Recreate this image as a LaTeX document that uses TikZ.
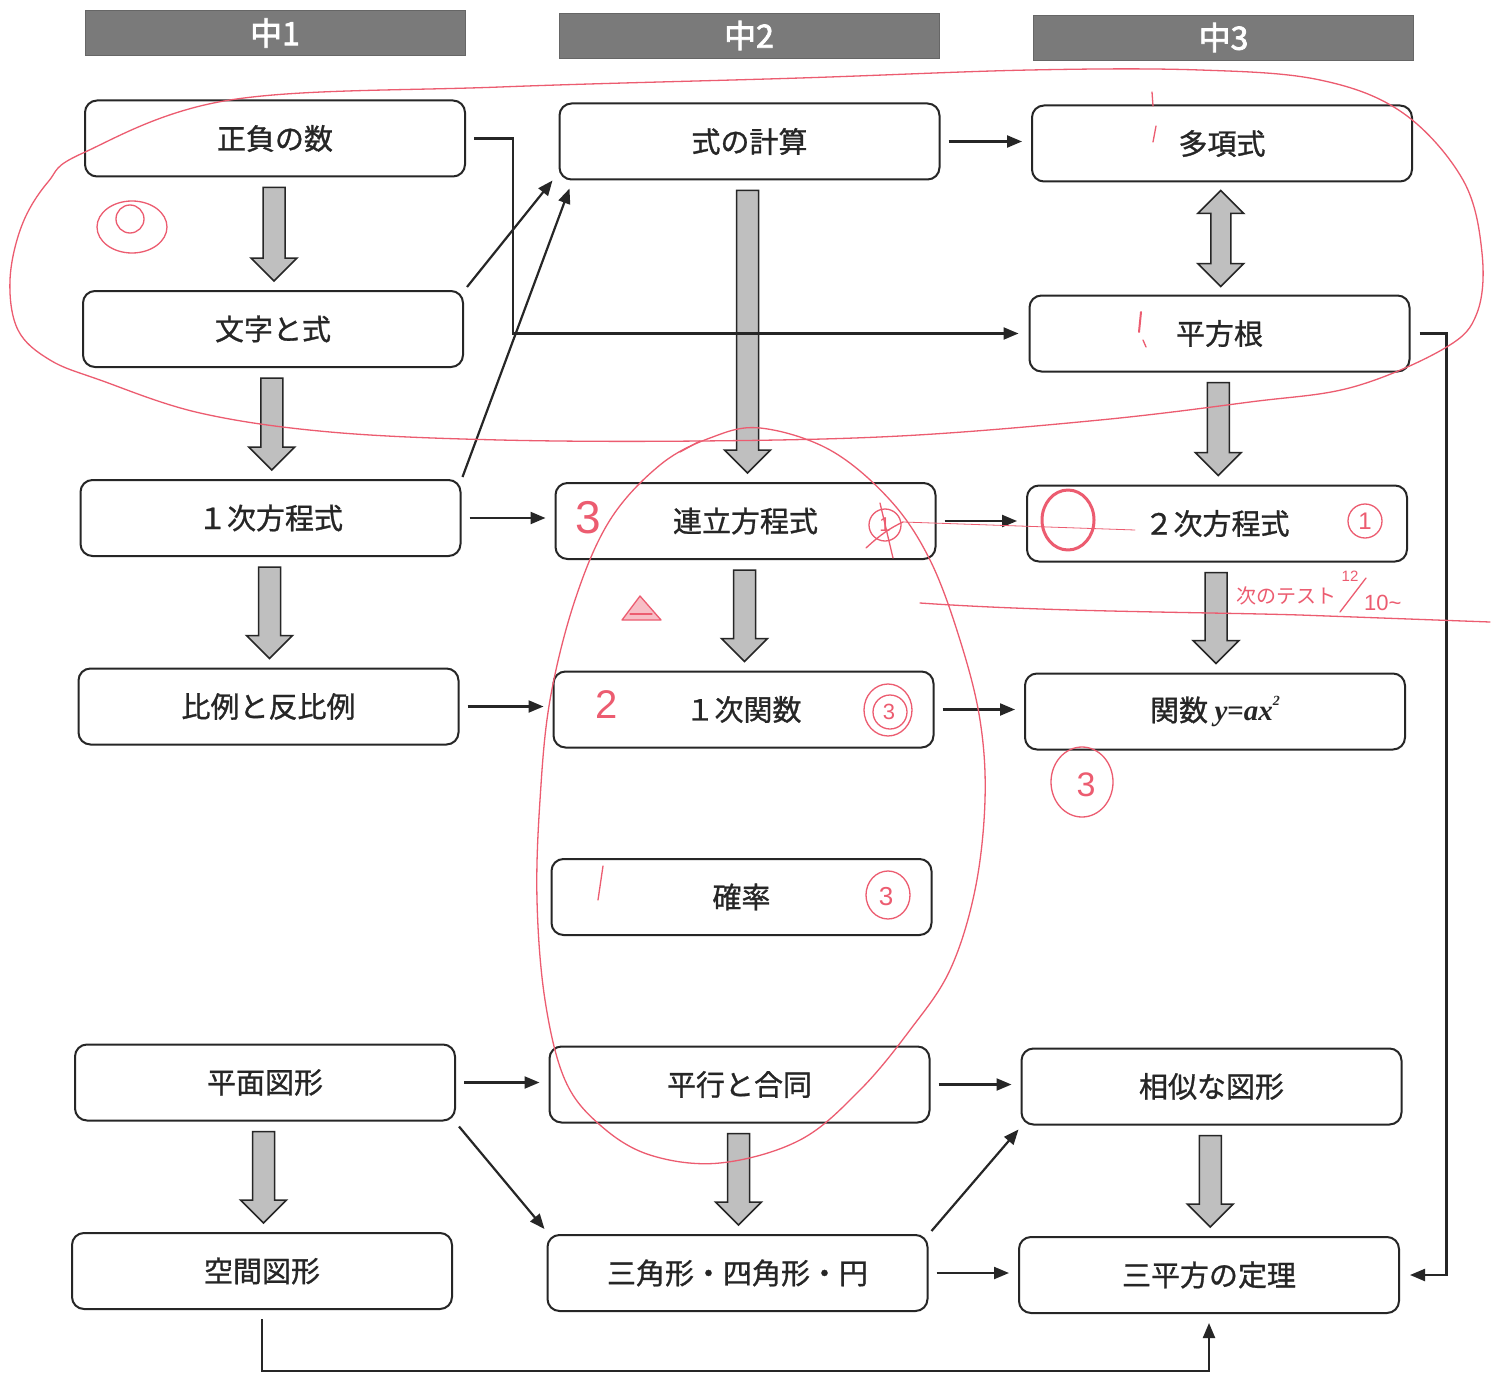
\documentclass[tikz,border=0pt]{standalone}
\usepackage{fontspec}
\usetikzlibrary{calc,arrows.meta}
\newfontfamily\jp{Noto Sans CJK JP}[FakeBold=1]
\newfontfamily\jpthin{Noto Sans CJK JP}
\newfontfamily\jpbold{Noto Sans CJK JP}[FakeBold=2.5]
\newfontfamily\serifbi{Liberation Serif}
\newfontfamily\handsans{Liberation Sans}
\definecolor{redpen}{RGB}{236,92,112}
\newcommand\boxfont{\jp\fontsize{29}{34}\selectfont}
\newcommand\hdrfont{\jpbold\fontsize{32}{36}\selectfont}
\newcommand\fatdown[2]{%
  \draw[fat] let \p1=(#1.south), \p2=(#2.north), \p3=($(\p1)!0.5!(\p2)$) in
    (\x3-11pt,\y1-10pt) -- (\x3+11pt,\y1-10pt) -- (\x3+11pt,\y2+32pt) --
    (\x3+23pt,\y2+32pt) -- (\x3,\y2+9pt) -- (\x3-23pt,\y2+32pt) --
    (\x3-11pt,\y2+32pt) -- cycle;}
\begin{document}
\begin{tikzpicture}[x=1pt,y=-1pt,
  box/.style={draw=black!85, line width=2pt, rounded corners=12pt,
    minimum width=380pt, minimum height=76pt, font=\boxfont, text=black!85, inner sep=0pt},
  hdr/.style={fill=black!52, draw=black!60, line width=0.8pt, minimum width=380pt,
    minimum height=45pt, font=\hdrfont, text=white, inner sep=0pt},
  conn/.style={draw=black!85, line width=2.2pt, -{Triangle[length=15pt,width=12pt]}},
  fat/.style={draw=black!85, line width=1.5pt, fill=black!25},
  pen/.style={draw=redpen, line width=1.3pt, line cap=round, line join=round},
  pentext/.style={text=redpen, inner sep=0pt},
]
\useasboundingbox[fill=white] (0,0) rectangle (1494,1375);

% headers
\node[hdr] (h1) at (275,33) {中1};
\node[hdr] (h2) at (749,35.5) {中2};
\node[hdr] (h3) at (1223.5,37.5) {中3};

% column 1
\node[box] (seifu)  at (275,138.5)  {正負の数};
\node[box] (moji)   at (273,329)    {文字と式};
\node[box] (ichiji) at (270.5,518)  {１次方程式};
\node[box] (hirei)  at (268.5,706.5){比例と反比例};
\node[box] (heimen) at (265,1082.5) {平面図形};
\node[box] (kukan)  at (262,1271)   {空間図形};
% column 2
\node[box] (siki)     at (749.5,141.5) {式の計算};
\node[box] (renritsu) at (745.5,521)   {連立方程式};
\node[box] (kansu1)   at (743.5,709.5) {１次関数};
\node[box] (kakuritsu)at (741.5,897)   {確率};
\node[box] (heiko)    at (739.5,1084.5){平行と合同};
\node[box] (sankaku)  at (737.5,1273)  {三角形・四角形・円};
% column 3
\node[box] (tako)   at (1222,143.5)  {多項式};
\node[box] (heiho)  at (1219.5,333.5){平方根};
\node[box] (niji)   at (1217,523.5)  {２次方程式};
\node[box] (kansu2) at (1215,711.5)  {関数 {\serifbi\bfseries\itshape y\upshape=\itshape ax\raisebox{0.55em}{\fontsize{14}{14}\selectfont 2}}};
\node[box] (soji)   at (1211.5,1086.5){相似な図形};
\node[box] (sanhei) at (1209,1275)   {三平方の定理};

% fat arrows
\fatdown{seifu}{moji}
\fatdown{moji}{ichiji}
\fatdown{ichiji}{hirei}
\fatdown{heimen}{kukan}
\fatdown{siki}{renritsu}
\fatdown{renritsu}{kansu1}
\fatdown{heiko}{sankaku}
\fatdown{heiho}{niji}
\fatdown{niji}{kansu2}
\fatdown{soji}{sanhei}
\draw[fat] let \p1=(tako.south), \p2=(heiho.north), \p3=($(\p1)!0.5!(\p2)$) in
  (\x3,\y1-8pt) -- (\x3+23pt,\y1-31pt) -- (\x3+10pt,\y1-31pt) -- (\x3+10pt,\y2+31pt) --
  (\x3+23pt,\y2+31pt) -- (\x3,\y2+8pt) -- (\x3-23pt,\y2+31pt) -- (\x3-10pt,\y2+31pt) --
  (\x3-10pt,\y1-31pt) -- (\x3-23pt,\y1-31pt) -- cycle;

% thin connectors
\draw[conn] ([xshift=8pt]seifu.east) -- ++(39pt,0pt) |- ([xshift=-10pt]heiho.west);
\draw[conn] ([xshift=8pt]siki.east) -- ([xshift=-9pt]tako.west |- siki.east);
\draw[conn] ([xshift=3pt,yshift=3pt]moji.north east) -- ([xshift=-6pt,yshift=0pt]siki.south west);
\draw[conn] ([xshift=1pt,yshift=2pt]ichiji.north east) -- ([xshift=11pt,yshift=-8pt]siki.south west);
\draw[conn] ([xshift=8pt]ichiji.east) -- ([xshift=-9pt]renritsu.west |- ichiji.east);
\draw[conn] ([xshift=8pt]renritsu.east) -- ([xshift=-9pt]niji.west |- renritsu.east);
\draw[conn] ([xshift=8pt]hirei.east) -- ([xshift=-9pt]kansu1.west |- hirei.east);
\draw[conn] ([xshift=8pt]kansu1.east) -- ([xshift=-9pt]kansu2.west |- kansu1.east);
\draw[conn] ([xshift=8pt]heimen.east) -- ([xshift=-9pt]heiko.west |- heimen.east);
\draw[conn] ([xshift=8pt]heiko.east) -- ([xshift=-9pt]soji.west |- heiko.east);
\draw[conn] ([xshift=3pt,yshift=-5pt]heimen.south east) -- ([xshift=-2pt,yshift=5pt]sankaku.north west);
\draw[conn] ([xshift=3pt,yshift=3pt]sankaku.north east) -- ([xshift=-2pt,yshift=-4pt]soji.south west);
\draw[conn] ([xshift=8pt]sankaku.east) -- ([xshift=-9pt]sanhei.west |- sankaku.east);
\draw[conn] ([xshift=9pt]heiho.east) -- ++(27pt,0pt) |- ([xshift=10pt]sanhei.east);
\draw[conn] ([yshift=-9pt]kukan.south) -- ++(0pt,-52pt) -| ([yshift=-9pt]sanhei.south);

% red annotations
\draw[pen] plot[smooth cycle, tension=0.6] coordinates {
  (83,153) (48,182) (22,225) (10,280) (18,330) (50,360) (100,380) (200,413) (330,432)
  (500,440) (700,441) (900,436) (1100,420) (1250,402) (1353,387) (1445,348) (1477,313)
  (1482,253) (1463,180) (1403,113) (1320,80) (1200,70) (1030,70) (800,78) (500,87) (230,100)};
\draw[pen] plot[smooth cycle, tension=0.6] coordinates {
  (760,428) (830,450) (890,500) (930,560) (960,640) (980,720) (985,800) (975,890)
  (950,970) (910,1030) (860,1090) (800,1140) (720,1163) (650,1155) (600,1125) (565,1080)
  (545,1000) (537,900) (540,800) (550,700) (575,600) (610,520) (660,465) (710,438)};
\draw[pen] (680,452) -- (700,441);
% double circle
\draw[pen] (132,227) ellipse [x radius=35, y radius=26];
\draw[pen] (130,219) circle [radius=14];
% 3 in renritsu, 2 in kansu1
\node[pentext, font=\handsans\fontsize{46}{46}\selectfont] (r3) at (588,518) {3};
\node[pentext, font=\handsans\fontsize{40}{40}\selectfont] (r2) at (607,705) {2};
% circled 1 with cross near renritsu
\draw[pen] (885,525) circle [radius=16];
\node[pentext, font=\handsans\fontsize{20}{20}\selectfont] (rx1) at (885,525) {1};
\draw[pen] (866,548) .. controls (880,535) and (890,528) .. (903,522);
\draw[pen] (880,503) -- (893,558);
\draw[pen, line width=0.8pt] (903,522) -- (1135,530);
% triangle
\draw[pen, fill=redpen!40] (622,620) -- (661,620) -- (640,596) -- cycle;
\draw[pen] (630,614) -- (652,614);
% big circle on niji
\draw[pen, line width=3pt] (1068,520) ellipse [x radius=26, y radius=30];
% circled numbers
\draw[pen] (1365,521) circle [radius=17];
\node[pentext, font=\handsans\fontsize{24}{24}\selectfont] (rc1) at (1365,521) {1};
\draw[pen] (888,710) ellipse [x radius=24, y radius=26];
\draw[pen] (890,712) circle [radius=17];
\node[pentext, font=\handsans\fontsize{22}{22}\selectfont] (rc2) at (889,712) {3};
\draw[pen] (888,895) ellipse [x radius=22, y radius=24];
\node[pentext, font=\handsans\fontsize{26}{26}\selectfont] (rc3) at (886,897) {3};
\draw[pen] (1082,782) ellipse [x radius=31, y radius=35];
\node[pentext, font=\handsans\fontsize{34}{34}\selectfont] (rc4) at (1086,785) {3};
% slash in kakuritsu
\draw[pen] (603,866) -- (598,900);
% small marks
\draw[pen] (1152,92) -- (1153,106);
\draw[pen] (1156,126) -- (1153,142);
\draw[pen, line width=2pt] (1141,312) -- (1139,332);
\draw[pen] (1143,340) -- (1146,347);
% test note
\draw[pen] (920,603) .. controls (1050,612) and (1200,612) .. (1300,615) -- (1490,622);
\node[pentext, font=\jpthin\fontsize{20}{20}\selectfont, anchor=west] (note) at (1236,596) {次のテスト};
\node[pentext, font=\handsans\fontsize{15}{15}\selectfont] (n12) at (1350,576) {12};
\draw[pen] (1340,612) -- (1366,578);
\node[pentext, font=\handsans\fontsize{22}{22}\selectfont, anchor=west] (n10) at (1364,603) {10\textasciitilde};
\end{tikzpicture}
\end{document}
